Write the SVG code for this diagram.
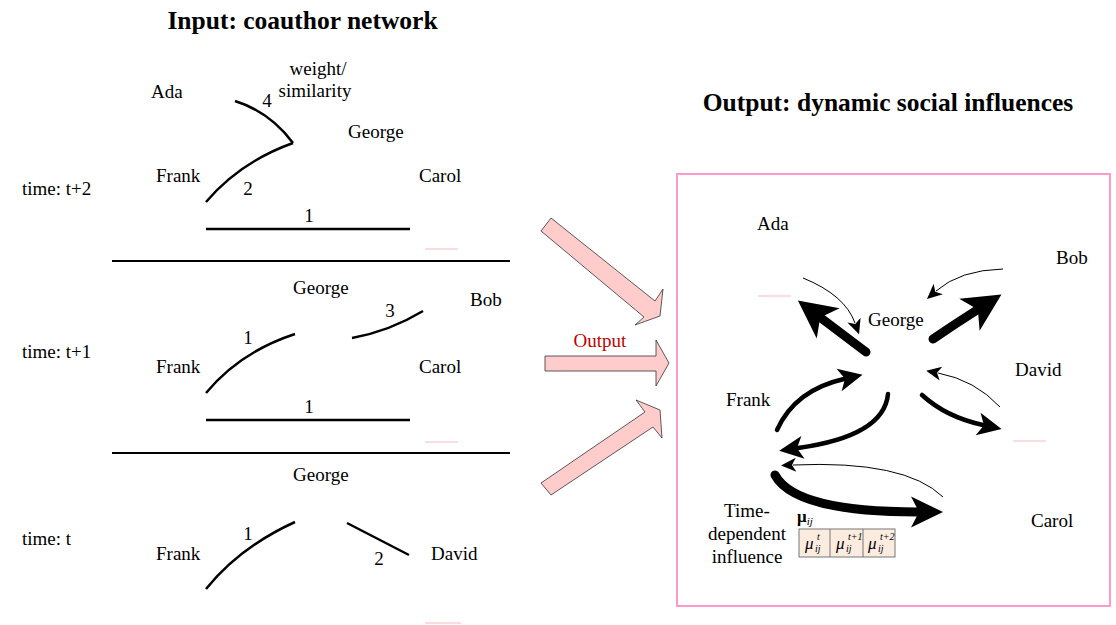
<svg xmlns="http://www.w3.org/2000/svg" width="1116" height="625" viewBox="0 0 1116 625">
<style>
  text { font-family: "Liberation Serif", "Times New Roman", serif; fill: #000; }
  .lbl { font-size: 19px; }
  .title { font-size: 25.5px; font-weight: bold; }
  .edge { fill: none; stroke: #000; stroke-width: 2.5; }
  .sep { stroke: #000; stroke-width: 2.2; }
  .blk { fill: #ffcccc; stroke: #333; stroke-width: 0.8; }
  .thick { fill: none; stroke: #000; stroke-width: 9; stroke-linecap: round; }
  .med { fill: none; stroke: #000; stroke-width: 4.5; stroke-linecap: round; }
  .thin { fill: none; stroke: #000; stroke-width: 1; }
  .ghost { stroke: #f9dde2; stroke-width: 2; }
  .mu { font-size: 17px; font-style: italic; }
  .sm { font-size: 10px; font-style: italic; }
</style>
<defs>
  <marker id="hBig" markerUnits="userSpaceOnUse" markerWidth="38" markerHeight="38" refX="9" refY="19" orient="auto" overflow="visible">
    <path d="M0,0 L38,19 L0,38 L10,19 Z" fill="#000"/>
  </marker>
  <marker id="hBig2" markerUnits="userSpaceOnUse" markerWidth="32" markerHeight="31" refX="7" refY="15.5" orient="auto" overflow="visible">
    <path d="M0,0 L32,15.5 L0,31 L8,15.5 Z" fill="#000"/>
  </marker>
  <marker id="hMed" markerUnits="userSpaceOnUse" markerWidth="24" markerHeight="23" refX="5" refY="11.5" orient="auto" overflow="visible">
    <path d="M0,0 L24,11.5 L0,23 L6,11.5 Z" fill="#000"/>
  </marker>
  <marker id="hSm" markerUnits="userSpaceOnUse" markerWidth="15" markerHeight="14" refX="3" refY="7" orient="auto" overflow="visible">
    <path d="M0,0 L15,7 L0,14 L4,7 Z" fill="#000"/>
  </marker>
</defs>

<g id="titles">
  <text class="title" x="302.5" y="29" text-anchor="middle">Input: coauthor network</text>
  <text class="title" x="888" y="111" text-anchor="middle">Output: dynamic social influences</text>
</g>

<g id="time-labels">
  <text class="lbl" x="22" y="195">time: t+2</text>
  <text class="lbl" x="22" y="358">time: t+1</text>
  <text class="lbl" x="22" y="545">time: t</text>
</g>

<g id="separators">
  <line class="sep" x1="112" y1="261" x2="510" y2="261"/>
  <line class="sep" x1="112" y1="453" x2="510" y2="453"/>
  <line class="ghost" x1="425" y1="249" x2="458" y2="249"/>
  <line class="ghost" x1="425" y1="442" x2="458" y2="442"/>
  <line class="ghost" x1="425" y1="623" x2="461" y2="623"/>
</g>

<!-- time t+2 -->
<g id="t2-nodes">
  <g id="t2-ada"><text class="lbl" x="151" y="98">Ada</text></g>
  <g id="t2-george"><text class="lbl" x="348" y="138">George</text></g>
  <g id="t2-frank"><text class="lbl" x="156" y="182">Frank</text></g>
  <g id="t2-carol"><text class="lbl" x="419" y="182">Carol</text></g>
  <g id="t2-note">
    <text class="lbl" x="318" y="75" text-anchor="middle">weight/</text>
    <text class="lbl" x="315" y="97" text-anchor="middle">similarity</text>
  </g>
</g>
<g id="t2-edges">
  <path class="edge" d="M235,101 Q270,112 293,143"/>
  <path class="edge" d="M206,202 Q240,162 293,143"/>
  <line class="edge" x1="206" y1="229" x2="410" y2="229"/>
  <text class="lbl" x="267" y="107" text-anchor="middle">4</text>
  <text class="lbl" x="248" y="195" text-anchor="middle">2</text>
  <text class="lbl" x="309" y="222" text-anchor="middle">1</text>
</g>

<!-- time t+1 -->
<g id="t1-nodes">
  <g id="t1-george"><text class="lbl" x="293" y="294">George</text></g>
  <g id="t1-bob"><text class="lbl" x="470" y="306">Bob</text></g>
  <g id="t1-frank"><text class="lbl" x="156" y="373">Frank</text></g>
  <g id="t1-carol"><text class="lbl" x="419" y="373">Carol</text></g>
</g>
<g id="t1-edges">
  <path class="edge" d="M352,338 Q390,331 423,311"/>
  <path class="edge" d="M206,393 Q240,352 295,334"/>
  <line class="edge" x1="206" y1="420" x2="410" y2="420"/>
  <text class="lbl" x="390" y="317" text-anchor="middle">3</text>
  <text class="lbl" x="248" y="344" text-anchor="middle">1</text>
  <text class="lbl" x="309" y="413" text-anchor="middle">1</text>
</g>

<!-- time t -->
<g id="t0-nodes">
  <g id="t0-george"><text class="lbl" x="293" y="481">George</text></g>
  <g id="t0-frank"><text class="lbl" x="156" y="560">Frank</text></g>
  <g id="t0-david"><text class="lbl" x="431" y="560">David</text></g>
</g>
<g id="t0-edges">
  <path class="edge" d="M206,589 Q240,547 295,522"/>
  <line class="edge" x1="347" y1="523" x2="409" y2="555"/>
  <text class="lbl" x="248" y="540" text-anchor="middle">1</text>
  <text class="lbl" x="379" y="565" text-anchor="middle">2</text>
</g>

<!-- block arrows -->
<g id="block-arrows">
  <polygon class="blk" points="551,218 655,301 663,289 660,316 635,325 644,317 541,231"/>
  <polygon class="blk" points="545,356 656,356 656,340 669,363 656,386 656,371 545,371"/>
  <polygon class="blk" points="541,483 645,412 636,400 660,410 662,438 653,427 551,495"/>
  <text class="lbl" x="600" y="347" text-anchor="middle" style="fill:#c00000">Output</text>
</g>

<!-- output panel -->
<g id="output-panel">
  <rect x="677" y="174" width="433" height="432" fill="none" stroke="#ff99cc" stroke-width="2"/>
  <line class="ghost" x1="758" y1="296" x2="791" y2="296"/>
  <line class="ghost" x1="1013" y1="441" x2="1046" y2="441"/>
</g>

<g id="out-ada"><text class="lbl" x="757" y="230">Ada</text></g>
<g id="out-bob"><text class="lbl" x="1056" y="264">Bob</text></g>
<g id="out-george"><text class="lbl" x="868" y="326">George</text></g>
<g id="out-david"><text class="lbl" x="1015" y="376">David</text></g>
<g id="out-frank"><text class="lbl" x="726" y="406">Frank</text></g>
<g id="out-carol"><text class="lbl" x="1031" y="527">Carol</text></g>

<g id="influence-connectors">
  <path class="thick" d="M866,352 L821,318" marker-end="url(#hBig)"/>
  <path class="thick" d="M933,339 Q955,324 977,310" marker-end="url(#hBig)"/>
  <path class="thin" d="M803,278 Q845,295 855,323" marker-end="url(#hSm)"/>
  <path class="thin" d="M1003,269 Q960,270 936,291" marker-end="url(#hSm)"/>
  <path class="thin" d="M1000,407 Q975,380 938,373" marker-end="url(#hSm)"/>
  <path class="med" d="M777,430 Q795,390 844,379" marker-end="url(#hMed)"/>
  <path class="med" d="M888,394 Q884,436 798,448" marker-end="url(#hMed)"/>
  <path class="med" d="M922,395 Q946,417 983,425" marker-end="url(#hMed)"/>
  <path class="thin" d="M943,497 Q905,460 793,465" marker-end="url(#hSm)"/>
  <path class="thick" d="M775,475 Q795,512 918,512" marker-end="url(#hBig2)"/>
</g>

<g id="time-dependent-influence">
  <text class="lbl" x="747" y="517" text-anchor="middle">Time-</text>
  <text class="lbl" x="747" y="540" text-anchor="middle">dependent</text>
  <text class="lbl" x="747" y="563" text-anchor="middle">influence</text>
  <text x="797" y="522" style="font-size:17px;font-weight:bold">μ<tspan class="sm" style="font-size:11px;font-weight:normal" dy="3">ij</tspan></text>
  <rect x="799" y="529" width="96" height="28" fill="#fcece0" stroke="#777" stroke-width="1"/>
  <line x1="830" y1="529" x2="830" y2="557" stroke="#777" stroke-width="1"/>
  <line x1="863" y1="529" x2="863" y2="557" stroke="#777" stroke-width="1"/>
  <text class="mu" x="805" y="549">μ</text>
  <text class="sm" x="817" y="540">t</text>
  <text class="sm" x="815" y="552">ij</text>
  <text class="mu" x="836" y="549">μ</text>
  <text class="sm" x="848" y="540">t+1</text>
  <text class="sm" x="846" y="552">ij</text>
  <text class="mu" x="868" y="549">μ</text>
  <text class="sm" x="880" y="540">t+2</text>
  <text class="sm" x="878" y="552">ij</text>
</g>
</svg>
